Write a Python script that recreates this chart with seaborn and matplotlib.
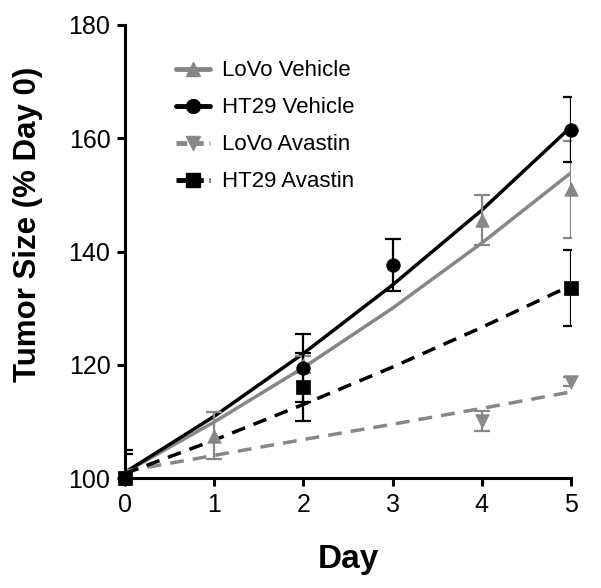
import numpy as np
import pandas as pd
import matplotlib
matplotlib.use("Agg")
import matplotlib.pyplot as plt
from matplotlib.lines import Line2D
import seaborn as sns

#Data
fit_days = [0, 1, 2, 3, 4, 5]

#LoVo Vehicle
lovo_veh_days = [0, 1, 2, 4, 5]
lovo_veh = [100, 107.5, 120.0, 145.6, 151.0]
lovo_veh_err = [0, 4.2, 1.5, 4.4, 8.6]
lovo_veh_fit = [101.0, 109.9, 119.5, 130.0, 141.5, 153.9]

#HT29 Vehicle
ht29_veh_days = [0, 2, 3, 5]
ht29_veh = [100, 119.4, 137.6, 161.5]
ht29_veh_err = [5.0, 6.0, 4.6, 5.7]
ht29_veh_fit = [101.0, 110.9, 122.0, 134.1, 147.3, 162.0]

#LoVo Avastin
lovo_ava_days = [0, 4, 5]
lovo_ava = [100, 110.1, 117.0]
lovo_ava_err = [0, 1.8, 0.8]
lovo_ava_fit = [101.2, 104.0, 106.8, 109.5, 112.3, 115.2]

#HT29 Avastin
ht29_ava_days = [0, 2, 5]
ht29_ava = [100, 116.0, 133.6]
ht29_ava_err = [4.2, 6.0, 6.7]
ht29_ava_fit = [100.8, 106.7, 113.0, 119.6, 126.6, 134.0]

gray = '#878787'
black = '#000000'

series = [
    ('LoVo Vehicle', lovo_veh_days, lovo_veh, lovo_veh_err, lovo_veh_fit, gray, '^', '-'),
    ('HT29 Vehicle', ht29_veh_days, ht29_veh, ht29_veh_err, ht29_veh_fit, black, 'o', '-'),
    ('LoVo Avastin', lovo_ava_days, lovo_ava, lovo_ava_err, lovo_ava_fit, gray, 'v', '--'),
    ('HT29 Avastin', ht29_ava_days, ht29_ava, ht29_ava_err, ht29_ava_fit, black, 's', '--'),
]

sns.set_style('ticks')
plt.rcParams['font.family'] = ['Liberation Sans', 'DejaVu Sans']
#Black text and axes instead of the seaborn dark gray
plt.rcParams['text.color'] = 'black'
plt.rcParams['axes.labelcolor'] = 'black'
plt.rcParams['axes.edgecolor'] = 'black'
plt.rcParams['xtick.color'] = 'black'
plt.rcParams['ytick.color'] = 'black'

fig = plt.figure(figsize=(6.01, 5.88), dpi=100)
ax = fig.add_axes([0.208, 0.187, 0.742, 0.7705])

handles = []
for name, d, v, e, fit, col, mk, ls in series:
    #Fitted curve
    df_fit = pd.DataFrame({'Day': fit_days, 'Size': fit})
    sns.lineplot(data=df_fit, x='Day', y='Size', color=col, lw=2.5,
                 linestyle=ls, dashes=False, ax=ax, zorder=2)
    if ls == '--':
        ax.lines[-1].set_dashes([4, 2.6])
    #Error bars
    ax.errorbar(d, v, yerr=e, fmt='none', ecolor=col, elinewidth=1.6,
                capsize=6, capthick=1.6, zorder=3)
    #Points
    df_pts = pd.DataFrame({'Day': d, 'Size': v})
    sns.scatterplot(data=df_pts, x='Day', y='Size', color=col, marker=mk,
                    s=95, edgecolor=col, linewidth=0.5, ax=ax, zorder=4,
                    clip_on=False)
    h = Line2D([], [], color=col, lw=3.5, linestyle=ls, marker=mk,
               markersize=10, markeredgecolor=col)
    if ls == '--':
        h.set_dashes([2.2, 1.2])
    handles.append(h)

ax.set_xlim(0, 5)
ax.set_ylim(100, 180)
ax.set_xticks([0, 1, 2, 3, 4, 5])
ax.set_yticks([100, 120, 140, 160, 180])
ax.tick_params(labelsize=18, width=2.2, length=5.5, direction='out', pad=5)
for s in ['left', 'bottom']:
    ax.spines[s].set_linewidth(2.2)
sns.despine(ax=ax)
ax.set_xlabel('Day', fontsize=24, fontweight='bold', labelpad=20)
ax.set_ylabel('Tumor Size (% Day 0)', fontsize=22.5, fontweight='bold')
ax.yaxis.set_label_coords(-0.184, 0.56)

ax.legend(handles, [s[0] for s in series], loc='upper left',
          bbox_to_anchor=(0.115, 0.922), frameon=False, fontsize=16,
          borderpad=0, borderaxespad=0, labelspacing=0.72,
          handlelength=1.5, handletextpad=0.55)

fig.savefig('out.png', dpi=100)
